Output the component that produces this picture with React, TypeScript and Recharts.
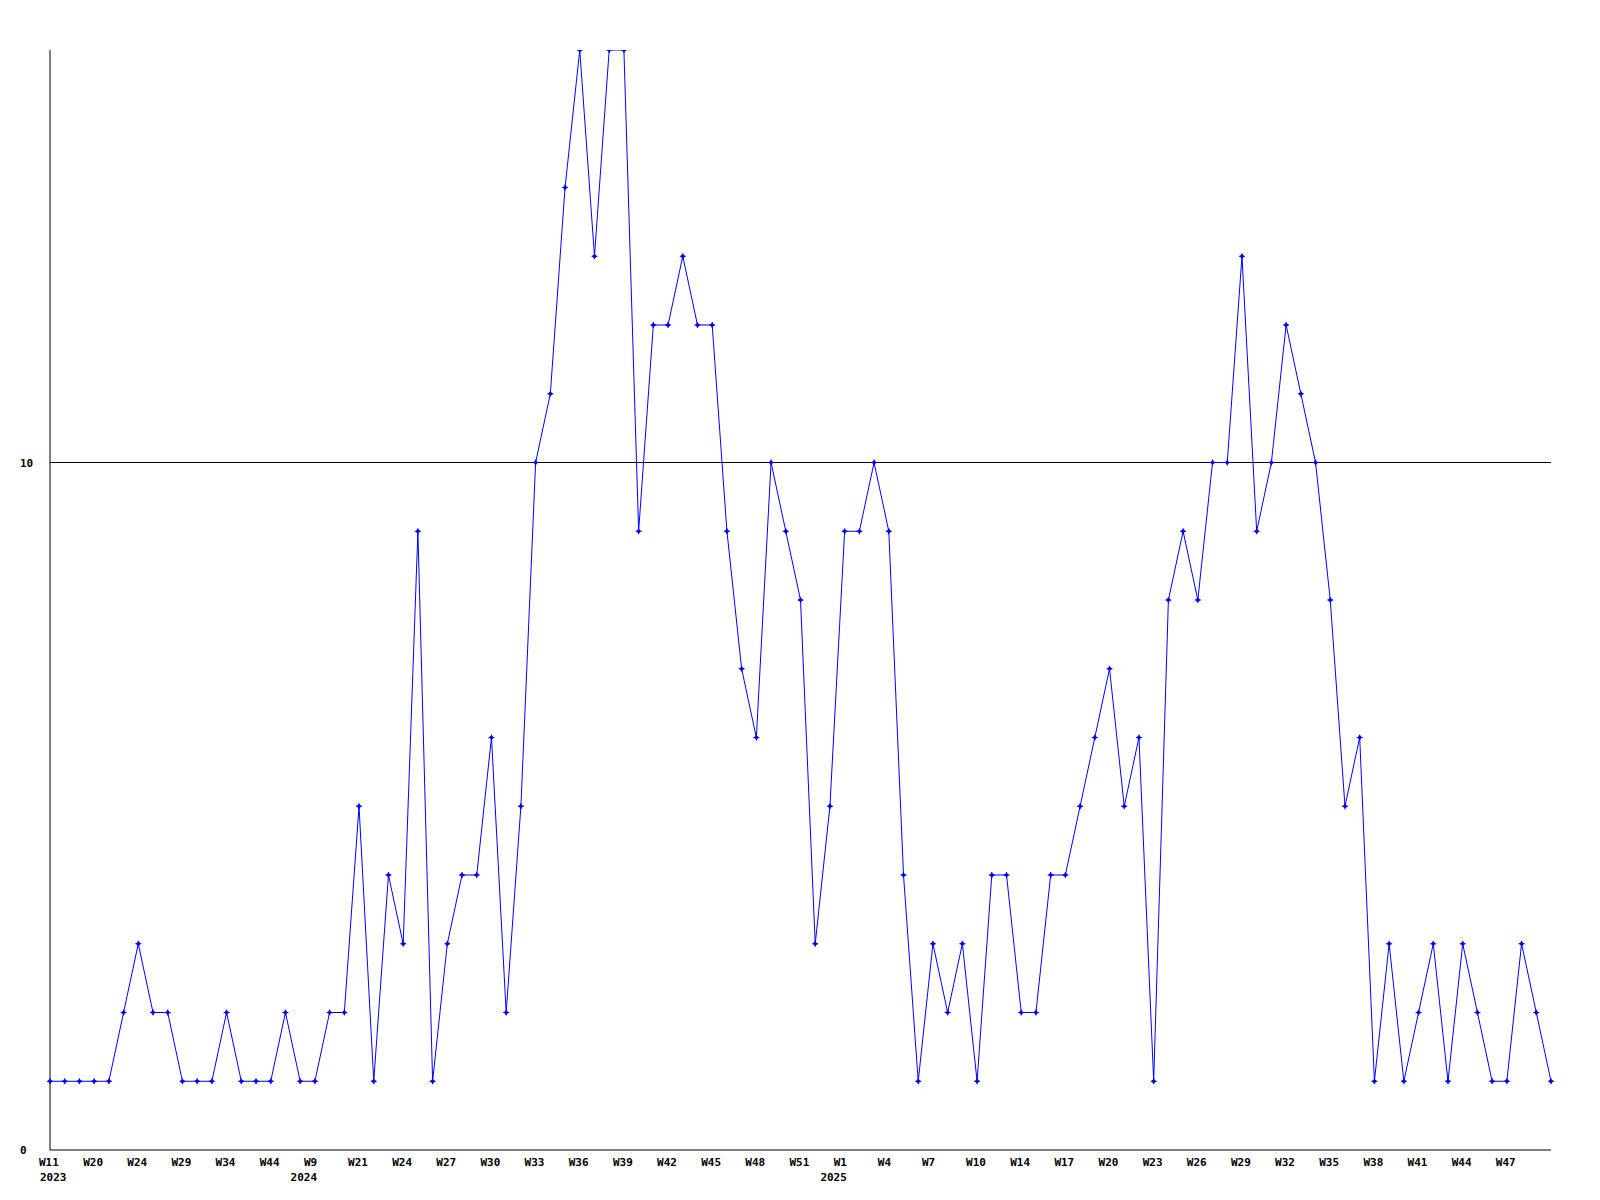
import { CartesianGrid, Line, LineChart, ReferenceLine, XAxis, YAxis } from 'recharts';

const years = [
  ...Array(18).fill('2023'),
  ...Array(36).fill('2024'),
  ...Array(49).fill('2025'),
];

const weeks = [
  // 2023
  'W11', 'W13', 'W17', 'W20', 'W21', 'W22', 'W24', 'W25', 'W27', 'W29', 'W30', 'W32',
  'W34', 'W36', 'W40', 'W44', 'W47', 'W50',
  // 2024
  'W9', 'W15', 'W18', 'W21', 'W22', 'W23', 'W24', 'W25', 'W26', 'W27', 'W28', 'W29',
  'W30', 'W31', 'W32', 'W33', 'W34', 'W35', 'W36', 'W37', 'W38', 'W39', 'W40', 'W41',
  'W42', 'W43', 'W44', 'W45', 'W46', 'W47', 'W48', 'W49', 'W50', 'W51', 'W52', 'W53',
  // 2025
  'W1', 'W2', 'W3', 'W4', 'W5', 'W6', 'W7', 'W8', 'W9', 'W10', 'W12', 'W13',
  'W14', 'W15', 'W16', 'W17', 'W18', 'W19', 'W20', 'W21', 'W22', 'W23', 'W24', 'W25',
  'W26', 'W27', 'W28', 'W29', 'W30', 'W31', 'W32', 'W33', 'W34', 'W35', 'W36', 'W37',
  'W38', 'W39', 'W40', 'W41', 'W42', 'W43', 'W44', 'W45', 'W46', 'W47', 'W48', 'W49',
  'W50',
];

const counts = [
  1, 1, 1, 1, 1, 2, 3, 2, 2, 1, 1, 1, 2, 1, 1, 1, 2, 1,
  1, 2, 2, 5, 1, 4, 3, 9, 1, 3, 4, 4, 6, 2, 5, 10, 11, 14,
  16, 13, 16, 16, 9, 12, 12, 13, 12, 12, 9, 7, 6, 10, 9, 8, 3, 5,
  9, 9, 10, 9, 4, 1, 3, 2, 3, 1, 4, 4, 2, 2, 4, 4, 5, 6,
  7, 5, 6, 1, 8, 9, 8, 10, 10, 13, 9, 10, 12, 11, 10, 8, 5, 6,
  1, 3, 1, 2, 3, 1, 3, 2, 1, 1, 3, 2, 1,
];

const yTicks = [0, 10];

const data = counts.map((count, i) => ({
  key: `${years[i]}-${weeks[i]}`,
  week: weeks[i],
  year: years[i],
  count,
}));

const FONT = "'DejaVu Sans Mono', monospace";
const CHAR_W = 6.62;

const WeekTick = (props: any) => {
  const { x, y, index } = props;
  const i = props.payload.index ?? index;
  const row = data[i];
  // the last week gets no label
  if (!row || i === data.length - 1) return null;
  const showYear = i === 0 || data[i - 3]?.year !== row.year;
  const weekStart = x - 11;
  const weekEnd = weekStart + row.week.length * CHAR_W;
  return (
    <g>
      <text x={weekStart} y={y + 16} fontFamily={FONT} fontWeight="bold" fontSize={11} fill="#000" textAnchor="start">
        {row.week}
      </text>
      {showYear && (
        <text
          x={i === 0 ? x - 10 : weekEnd}
          y={y + 31}
          fontFamily={FONT}
          fontWeight="bold"
          fontSize={11}
          fill="#000"
          textAnchor={i === 0 ? 'start' : 'end'}
        >
          {row.year}
        </text>
      )}
    </g>
  );
};

const CountTick = (props: any) => {
  const { x, y, payload } = props;
  return (
    <text x={x - 30} y={y + 4} fontFamily={FONT} fontWeight="bold" fontSize={11} fill="#000" textAnchor="start">
      {payload.value}
    </text>
  );
};

const Marker = (props: any) => {
  const { cx, cy } = props;
  if (cx == null || cy == null) return null;
  return (
    <g fill="#0000ff">
      <path d={`M${cx - 2.5},${cy}L${cx},${cy - 2.5}L${cx + 2.5},${cy}L${cx},${cy + 2.5}Z`} />
      <rect x={cx - 3} y={cy - 0.5} width={6} height={1} />
      <rect x={cx - 0.5} y={cy - 3} width={1} height={6} />
    </g>
  );
};

const App = () => (
  <div style={{ position: 'absolute', left: 0, top: 0, width: 1600, height: 1200, background: '#fff' }}>
    <LineChart width={1600} height={1200} data={data} margin={{ top: 50, right: 49, left: 20, bottom: 20 }}>
      <CartesianGrid horizontal={false} vertical={false} />
      <XAxis
        dataKey="key"
        interval={2}
        tickLine={false}
        tickSize={0}
        tickMargin={0}
        height={30}
        axisLine={{ stroke: '#000', strokeWidth: 1 }}
        tick={<WeekTick />}
        padding={{ left: 0, right: 0 }}
      />
      <YAxis
        domain={[0, 16]}
        ticks={yTicks}
        width={30}
        tickLine={false}
        tickSize={0}
        tickMargin={0}
        axisLine={{ stroke: '#000', strokeWidth: 1 }}
        tick={<CountTick />}
        allowDataOverflow
      />
      <ReferenceLine y={10} stroke="#000" strokeWidth={1} />
      <Line
        type="linear"
        dataKey="count"
        stroke="#0000ff"
        strokeWidth={1}
        dot={<Marker />}
        activeDot={false}
        isAnimationActive={false}
      />
    </LineChart>
  </div>
);

export default App;
